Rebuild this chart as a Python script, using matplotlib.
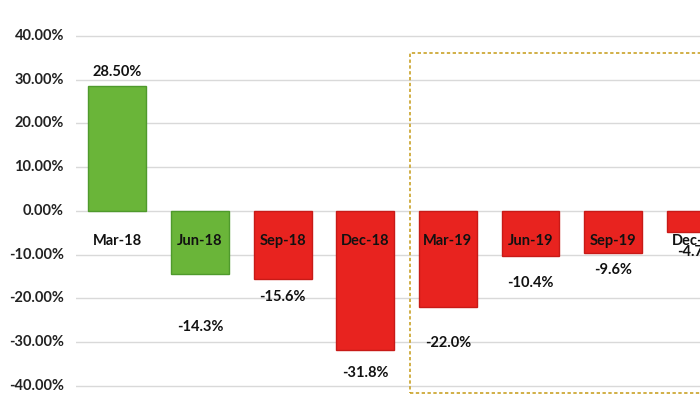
import numpy as np
from matplotlib import pyplot as plt
from matplotlib.patches import Rectangle

quarters = ['Mar-18', 'Jun-18', 'Sep-18', 'Dec-18', 'Mar-19', 'Jun-19', 'Sep-19', 'Dec-19']
returns = [28.5, -14.3, -15.6, -31.8, -22.0, -10.4, -9.6, -4.7]
value_labels = ['28.50%', '-14.3%', '-15.6%', '-31.8%', '-22.0%', '-10.4%', '-9.6%', '-4.7%']
bar_colors = ['#6ab539', '#6ab539', '#e8231f', '#e8231f', '#e8231f', '#e8231f', '#e8231f', '#e8231f']
edge_colors = ['#4f9a2c', '#4f9a2c', '#c81a17', '#c81a17', '#c81a17', '#c81a17', '#c81a17', '#c81a17']
yticks = [40, 30, 20, 10, 0, -10, -20, -30, -40]

# where the value labels sit (layout only)
label_y = [31.7, -26.5, -19.7, -37.0, -30.2, -16.5, -13.5, -9.4]

plt.rcParams['font.family'] = ['Lato', 'DejaVu Sans']

fig = plt.figure(figsize=(7, 4), dpi=100)
ax = fig.add_axes([76/700, 0, 624/700, 1])
ax.set_xlim(-0.5, 7.05)
ax.set_ylim(-43.2, 48.2)

for t in yticks:
    ax.axhline(t, color='#d9d9d9', lw=1, zorder=0)
    fig.text(64/700, (ax.transData.transform((0, t))[1]) / 400, '%.2f%%' % t,
             ha='right', va='center', fontsize=10.5, fontweight='bold', color='#222222')

x = np.arange(len(quarters))
ax.bar(x, returns, width=0.7, color=bar_colors, edgecolor=edge_colors, lw=1, zorder=2)

for i in range(len(quarters)):
    ax.text(x[i], -6.9, quarters[i], ha='center', va='center', fontsize=10.5,
            fontweight='bold', color='#111111', zorder=3)
    ax.text(x[i], label_y[i], value_labels[i], ha='center', va='center', fontsize=10.5,
            fontweight='bold', color='#111111', zorder=3)

# dotted box around 2019
box = Rectangle((3.54, -41.6), 4.0, 77.7, fill=False, ls=(0, (2, 1.5)),
                edgecolor='#c9a227', lw=1.2, zorder=4, clip_on=True)
ax.add_patch(box)

ax.axis('off')
fig.savefig('out.png', dpi=100)
